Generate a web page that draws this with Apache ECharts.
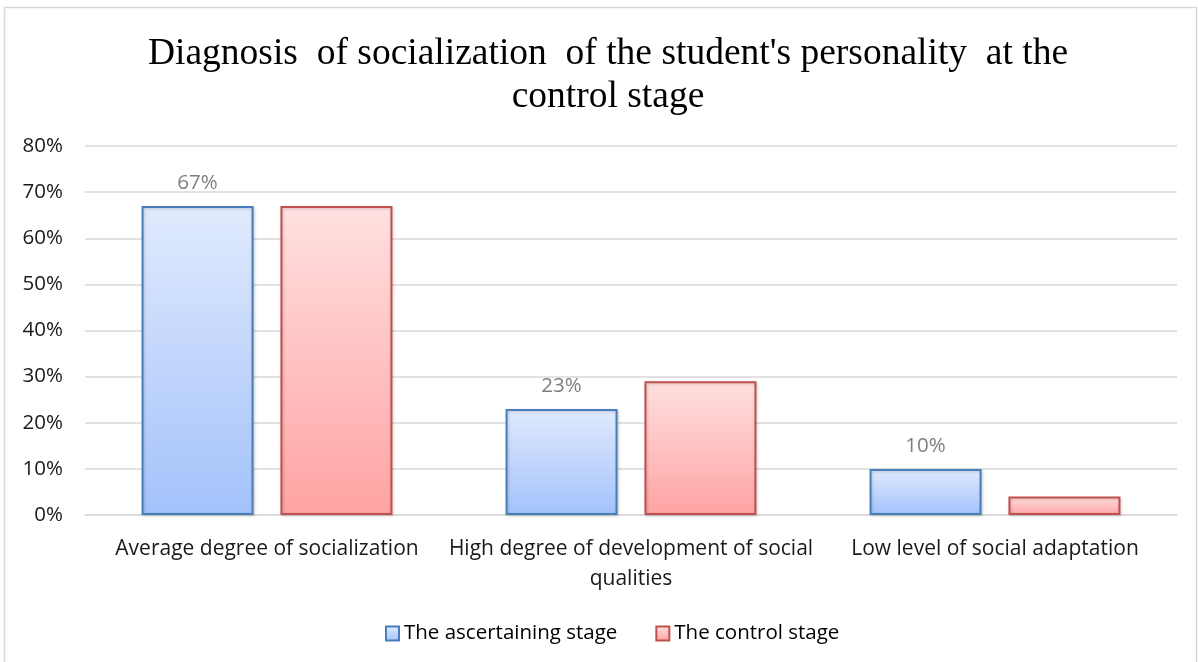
<!DOCTYPE html>
<html>
<head>
<meta charset="utf-8">
<script src="https://cdn.jsdelivr.net/npm/echarts@6/dist/echarts.min.js"></script>
<style>
html,body{margin:0;padding:0;background:#fff;}
#main{width:1198px;height:662px;}
</style>
</head>
<body>
<div id="main"></div>
<script>
const titleText = "Diagnosis  of socialization  of the student's personality  at the\ncontrol stage";
const categories = ["Average degree of socialization", "High degree of development of social\nqualities", "Low level of social adaptation"];
const seriesNames = ["The ascertaining stage", "The control stage"];
const ascertaining = [67, 23, 10];
const control = [67, 29, 4];
const yTicks = [0, 10, 20, 30, 40, 50, 60, 70, 80];

const chart = echarts.init(document.getElementById('main'), null, {renderer: 'canvas'});
const labelFont = '"Open Sans", "Noto Sans", sans-serif';

function grad(top, bottom) {
  return new echarts.graphic.LinearGradient(0, 0, 0, 1, [
    {offset: 0, color: top}, {offset: 1, color: bottom}
  ]);
}

chart.setOption({
  animation: false,
  backgroundColor: '#ffffff',
  graphic: [{
    type: 'rect', silent: true,
    shape: {x: 4.5, y: 7.5, width: 1192, height: 680},
    style: {fill: 'none', stroke: '#d9d9d9', lineWidth: 1.5}
  }],
  title: {
    text: titleText,
    left: 603,
    textAlign: 'center',
    top: 28,
    textStyle: {
      fontFamily: '"Liberation Serif", "Times New Roman", serif',
      fontWeight: 'normal',
      fontSize: 37.5,
      lineHeight: 43,
      color: '#000000'
    }
  },
  legend: {
    data: seriesNames,
    bottom: 13,
    left: 380,
    itemWidth: 13,
    itemHeight: 14,
    itemGap: 38,
    itemTextGap: 8,
    icon: 'rect',
    textStyle: {fontFamily: labelFont, fontSize: 20.5, color: '#000000'}
  },
  grid: {left: 85, right: 21, top: 146, bottom: 147, containLabel: false},
  xAxis: {
    type: 'category',
    data: categories,
    axisLine: {show: true, lineStyle: {color: '#d9d9d9', width: 1.5}},
    axisTick: {show: false},
    axisLabel: {
      fontFamily: labelFont, fontSize: 21, color: '#1a1a1a',
      margin: 19, lineHeight: 30, interval: 0
    }
  },
  yAxis: {
    type: 'value',
    min: 0, max: 80, interval: 10,
    axisLine: {show: false},
    axisTick: {show: false},
    splitLine: {lineStyle: {color: '#d9d9d9', width: 1.5}},
    axisLabel: {
      fontFamily: labelFont, fontSize: 20.5, color: '#1a1a1a', margin: 22,
      formatter: v => yTicks.includes(v) ? v + '%' : ''
    }
  },
  series: [
    {
      name: seriesNames[0],
      type: 'bar',
      data: ascertaining,
      barWidth: 112,
      barGap: '24%',
      itemStyle: {
        color: grad('#e0eafd', '#a3c2fb'),
        borderColor: '#4a7ebb', borderWidth: 2,
        shadowColor: 'rgba(0,0,0,0.18)', shadowBlur: 3, shadowOffsetX: 1, shadowOffsetY: 1
      },
      label: {
        show: true, position: 'top', distance: 12,
        formatter: p => p.value + '%',
        fontFamily: labelFont, fontSize: 20.5, color: '#7f7f7f'
      }
    },
    {
      name: seriesNames[1],
      type: 'bar',
      data: control,
      barWidth: 112,
      itemStyle: {
        color: grad('#ffe0e0', '#ffa3a3'),
        borderColor: '#c0504d', borderWidth: 2,
        shadowColor: 'rgba(0,0,0,0.18)', shadowBlur: 3, shadowOffsetX: 1, shadowOffsetY: 1
      }
    }
  ]
});
</script>
</body>
</html>
